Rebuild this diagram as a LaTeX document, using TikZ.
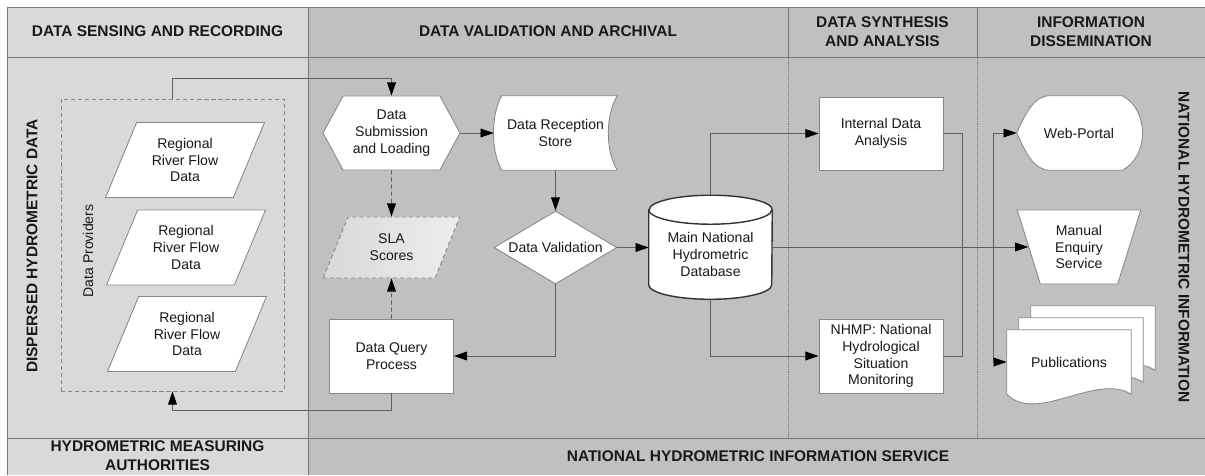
\documentclass[tikz,border=0pt]{standalone}
\usepackage{fontspec}
\setmainfont{Liberation Sans}
\usepackage{xcolor}
\usepackage{tikz}
\usetikzlibrary{shapes.geometric, shapes.symbols, arrows.meta, positioning, calc, backgrounds}
\definecolor{lanelight}{RGB}{217,217,217}
\definecolor{lanedark}{RGB}{192,192,192}
\definecolor{laneline}{RGB}{120,120,120}
\definecolor{shapeborder}{RGB}{135,135,135}
\definecolor{flowcolor}{RGB}{95,95,95}
\definecolor{inkcolor}{RGB}{25,25,25}

\begin{document}
\begin{tikzpicture}[
    x=0.25mm, y=0.25mm,
    lane/.style={font=\fontsize{11}{13.5}\selectfont\bfseries, text=inkcolor, align=center},
    txt/.style={font=\fontsize{10}{11.9}\selectfont, text=inkcolor, align=center, inner sep=0pt},
    box/.style={txt, draw=shapeborder, fill=white, line width=0.6pt},
    proc/.style={box, rectangle, minimum width=31mm, minimum height=18.5mm},
    datain/.style={box, trapezium, trapezium left angle=64, trapezium right angle=116, trapezium stretches=true, minimum width=40mm, minimum height=18.75mm},
    prep/.style={box, signal, signal to=west and east, signal pointer angle=123, minimum width=34.25mm, minimum height=18.5mm},
    decision/.style={box, diamond, aspect=1.7, minimum width=30.75mm, minimum height=18.25mm},
    manual/.style={box, trapezium, trapezium left angle=108, trapezium right angle=108, trapezium stretches=true, minimum width=31mm, minimum height=18.5mm},
    outline/.style={draw=shapeborder, fill=white, line width=0.6pt},
    arrow/.style={-{Triangle[length=3.3mm, width=2.2mm, color=black]}, flowcolor, line width=0.6pt},
    link/.style={flowcolor, line width=0.6pt}
]
    \useasboundingbox (0,0) rectangle (1205,475);

    % Lanes
    \begin{scope}[on background layer]
        \fill[lanelight] (7,0) rectangle (308,468);
        \fill[lanedark] (308,0) rectangle (1205,468);
        \draw[laneline, line width=0.6pt] (7,0) -- (7,468) -- (1205,468);
        \draw[laneline, line width=0.6pt] (7,418) -- (1205,418) (7,37) -- (1205,37) (308,0) -- (308,468);
        \draw[laneline, line width=0.6pt] (788,418) -- (788,468) (977,418) -- (977,468);
        \draw[laneline, densely dotted, line width=0.4pt] (788,37) -- (788,418) (977,37) -- (977,418);
    \end{scope}

    % Lane titles
    \node[lane] (hsensing) at (157.5,443.5) {DATA SENSING AND RECORDING};
    \node[lane] (hvalidation) at (548,443.5) {DATA VALIDATION AND ARCHIVAL};
    \node[lane] (hsynthesis) at (882.5,443.5) {DATA SYNTHESIS\\AND ANALYSIS};
    \node[lane] (hdissemination) at (1091,443.5) {INFORMATION\\DISSEMINATION};
    \node[lane] (fauthorities) at (157.5,19) {HYDROMETRIC MEASURING\\AUTHORITIES};
    \node[lane] (fservice) at (758,18.5) {NATIONAL HYDROMETRIC INFORMATION SERVICE};
    \node[lane, rotate=90] (sdispersed) at (32,229) {DISPERSED HYDROMETRIC DATA};
    \node[lane, rotate=-90] (snational) at (1184,228) {NATIONAL HYDROMETRIC INFORMATION};

    % Data providers
    \node[draw=shapeborder, densely dashed, line width=0.5pt, minimum width=55.75mm, minimum height=73mm, inner sep=0pt] (providers) at (172.5,230) {};
    \node[txt, rotate=90] (providerlabel) at (88,224) {Data Providers};
    \node[datain] (flow1) at (185,315) {Regional\\River Flow\\Data};
    \node[datain] (flow2) at (186,227.5) {Regional\\River Flow\\Data};
    \node[datain] (flow3) at (187,141) {Regional\\River Flow\\Data};

    % Validation and archival
    \node[prep] (submit) at (391.5,342) {Data\\Submission\\and Loading};
    \node[txt, minimum width=30.75mm, minimum height=18.5mm] (store) at (555.5,342) {Data Reception\\Store};
    \node[datain, densely dashed, trapezium left angle=65, trapezium right angle=115, minimum width=34.25mm, minimum height=15.25mm, left color=black!15, right color=black!7] (sla) at (391.5,227.5) {SLA\\Scores};
    \node[decision] (valid) at (555.5,227.5) {Data Validation};
    \node[proc] (query) at (391.5,119) {Data Query\\Process};
    \node[txt, minimum width=30.75mm, minimum height=22.25mm] (db) at (710.5,220.5) {Main National\\Hydrometric\\Database};

    % Synthesis and analysis
    \node[proc, minimum height=18.25mm] (analysis) at (881,341.5) {Internal Data\\Analysis};
    \node[proc] (monitor) at (881,119) {NHMP: National\\Hydrological\\Situation\\Monitoring};

    % Dissemination
    \node[txt, minimum width=31mm, minimum height=18.5mm] (portal) at (1079,342) {Web-Portal};
    \node[manual] (enquiry) at (1079,228) {Manual\\Enquiry\\Service};
    \node[txt, minimum width=31mm, minimum height=16mm] (pubs) at (1069,113) {Publications};

    % Drawn outlines
    \begin{scope}[on background layer]
        \draw[outline] ($(store.north west)+(8,0)$) -- (store.north east) .. controls +(-12,-19) and +(-12,19) .. (store.south east) -- ($(store.south west)+(8,0)$) .. controls +(-11,19) and +(-11,-19) .. ($(store.north west)+(8,0)$) -- cycle;
        \draw[outline, draw=black!80, line width=1pt] (db.north west) -- ($(db.south west)+(0,14.5)$) arc[start angle=180, end angle=360, x radius=61.5, y radius=14.5] -- (db.north east) arc[start angle=0, end angle=180, x radius=61.5, y radius=14.5] -- cycle;
        \draw[black!80, line width=1pt] (db.north west) arc[start angle=180, end angle=360, x radius=61.5, y radius=14.5];
        \draw[outline] (portal.west) .. controls +(8,18) and +(-16,0) .. ($(portal.north west)+(33,0)$) -- ($(portal.north east)+(-19,0)$) .. controls +(27,-14) and +(27,14) .. ($(portal.south east)+(-19,0)$) -- ($(portal.south west)+(33,0)$) .. controls +(-16,0) and +(8,-18) .. (portal.west) -- cycle;
        \draw[outline] ($(pubs.north west)+(24,24)$) -- ($(pubs.north east)+(24,24)$) -- ($(pubs.south east)+(24,24)$) .. controls +(-35,22) and +(30,-30) .. ($(pubs.south west)+(24,24)$) -- cycle;
        \draw[outline] ($(pubs.north west)+(12,12)$) -- ($(pubs.north east)+(12,12)$) -- ($(pubs.south east)+(12,12)$) .. controls +(-35,22) and +(30,-30) .. ($(pubs.south west)+(12,12)$) -- cycle;
        \draw[outline] (pubs.north west) -- (pubs.north east) -- (pubs.south east) .. controls +(-35,22) and +(30,-30) .. (pubs.south west) -- cycle;
    \end{scope}

    % Flows
    \draw[arrow] (providers.north) -- ++(0,20) -| (submit.north);
    \draw[arrow] (submit.east) -- (store.west);
    \draw[arrow, densely dashed] (submit.south) -- (sla.north);
    \draw[arrow, densely dashed] (query.north) -- (sla.south);
    \draw[arrow] (store.south) -- (valid.north);
    \draw[arrow] (valid.east) -- (valid.east -| db.west);
    \draw[arrow] (valid.south) |- (query.east);
    \draw[arrow] (query.south) -- ++(0,-17) -| (providers.south);
    \draw[arrow] ($(db.north)+(0,14.5)$) |- (analysis.west);
    \draw[arrow] (db.south) |- (monitor.west);
    \draw[arrow] (enquiry.west -| db.east) -- (enquiry.west);

    % Merge and fan-out
    \coordinate (merge) at (962,119);
    \coordinate (fanout) at (993,342);
    \draw[link] (analysis.east) -| (merge) -- (monitor.east);
    \draw[arrow] (fanout) -- (portal.west);
    \draw[arrow] (fanout) |- (pubs.west);
\end{tikzpicture}
\end{document}
